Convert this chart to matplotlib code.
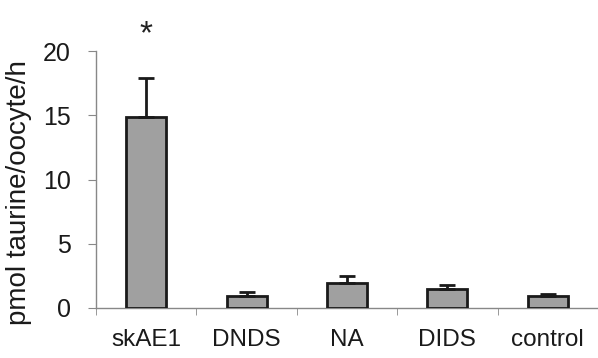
import matplotlib.pyplot as plt
import numpy as np

plt.rcParams['font.family'] = ['Liberation Sans', 'DejaVu Sans']

categories = ['skAE1', 'DNDS', 'NA', 'DIDS', 'control']
means = [14.9, 0.95, 1.95, 1.45, 0.95]
errors = [3.0, 0.3, 0.55, 0.35, 0.15]
star_labels = ['*', '', '', '', '']

fig = plt.figure(figsize=(5.98, 3.58), dpi=100)
ax = fig.add_axes([0.1605, 0.1397, 0.8395, 0.7178])

x = np.arange(len(categories))
ax.bar(x, means, width=0.4, color='#a0a0a0', edgecolor='#1a1a1a', linewidth=2,
       yerr=[np.zeros(len(means)), errors], capsize=6,
       error_kw={'ecolor': '#1a1a1a', 'elinewidth': 2, 'capthick': 2}, zorder=3)

for xi, m, e, s in zip(x, means, errors, star_labels):
    if s:
        ax.text(xi, 21.3, s, ha='center', va='center', fontsize=24, color='#222222')

ax.set_xlim(-0.5, len(categories) - 0.5)
ax.set_ylim(0, 20)
ax.set_yticks([0, 5, 10, 15, 20])
ax.set_xticks(x)
ax.set_xticklabels(categories)
ax.set_xticks(np.arange(-0.5, len(categories), 1.0), minor=True)
ax.tick_params(axis='x', which='major', length=0, pad=15, labelsize=17.5, labelcolor='#1a1a1a')
ax.tick_params(axis='x', which='minor', length=5, color='#888888', direction='out')
ax.tick_params(axis='y', length=6, color='#888888', labelsize=18, pad=12, labelcolor='#1a1a1a')
ax.set_ylabel('pmol taurine/oocyte/h', fontsize=20, color='#1a1a1a')
ax.yaxis.set_label_coords(-0.128, 0.45)

for side in ['top', 'right']:
    ax.spines[side].set_visible(False)
for side in ['left', 'bottom']:
    ax.spines[side].set_color('#888888')
    ax.spines[side].set_linewidth(1)

fig.savefig('out.png', dpi=100)
